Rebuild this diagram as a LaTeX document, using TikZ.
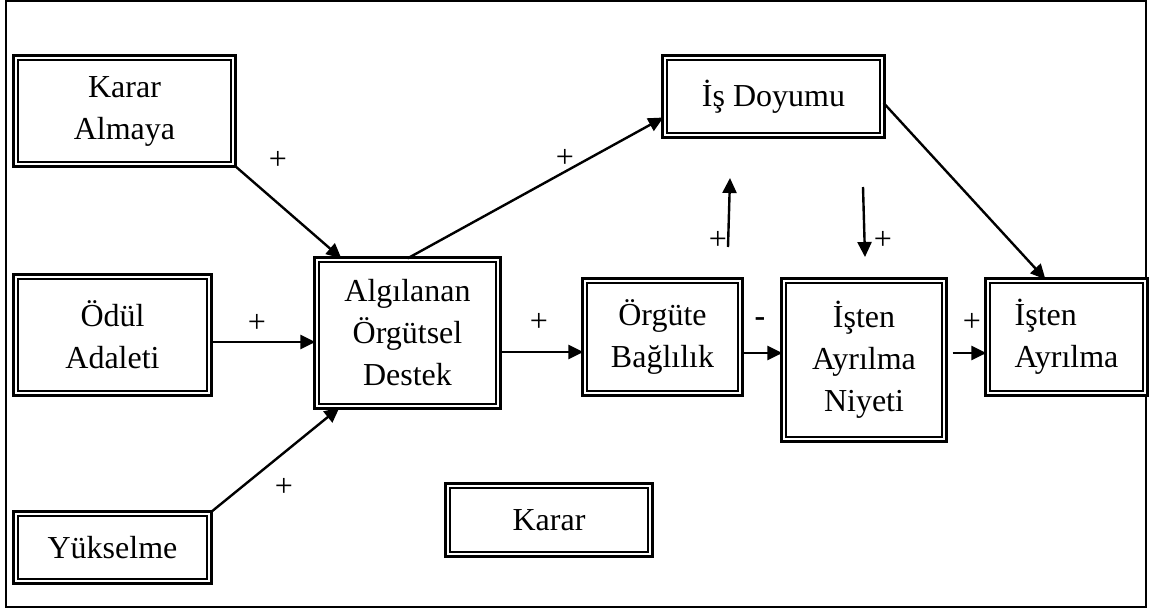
\documentclass[tikz,border=0pt]{standalone}
\usepackage{fontspec}
\setmainfont{Liberation Serif}
\usetikzlibrary{arrows.meta,calc}

\begin{document}
\begin{tikzpicture}[x=1pt,y=-1pt,>={Triangle[length=15pt,width=14pt]},line width=2.4pt]
 \tikzstyle{model box}=[draw,double,double distance=2.2pt,line width=2.6pt,align=center,inner sep=0pt,font=\fontsize{32}{42}\selectfont]
 \tikzstyle{sign}=[inner sep=0pt,font=\fontsize{32}{36}\selectfont]
 \useasboundingbox (0,0) rectangle (1152,608);
 \node (outer) [draw,line width=2pt,minimum width=1140pt,minimum height=606pt,inner sep=0pt] at (576,304) {};

 \node (kararalmaya) at (124.5,111) [model box,minimum width=217.6pt,minimum height=106.6pt] {Karar\\Almaya};
 \node (odul) at (112.5,335) [model box,minimum width=193.6pt,minimum height=116.6pt] {Ödül\\Adaleti};
 \node (yukselme) at (112.5,547.5) [model box,minimum width=193.6pt,minimum height=67.6pt] {Yükselme};
 \node (algilanan) at (407.5,333) [model box,minimum width=181.6pt,minimum height=146.6pt] {Algılanan\\Örgütsel\\Destek};
 \node (isdoyumu) at (773.5,96.5) [model box,minimum width=217.6pt,minimum height=77.6pt] {İş Doyumu};
 \node (orgute) at (662.5,337) [model box,minimum width=155.6pt,minimum height=112.6pt] {Örgüte\\Bağlılık};
 \node (niyeti) at (864,360) [model box,minimum width=160.6pt,minimum height=158.6pt] {İşten\\Ayrılma\\Niyeti};
 \node (istenayrilma) at (1066.5,337) [model box,align=left,minimum width=157.6pt,minimum height=112.6pt] {İşten\\Ayrılma};
 \node (karar) at (549,520) [model box,minimum width=202.6pt,minimum height=68.6pt] {Karar};

 % free arrows between the middle boxes
 \coordinate (upfoot) at (728,247);
 \coordinate (uptip) at (730,178);
 \coordinate (downfoot) at (863,187);
 \coordinate (downtip) at (865,257);

 \node (plusa) at (278,160) [sign] {+};
 \node (plusb) at (257,323) [sign] {+};
 \node (plusc) at (284,487) [sign] {+};
 \node (plusd) at (565,158) [sign] {+};
 \node (pluse) at (539,322) [sign] {+};
 \node (minus) at (760,322) [sign] {\textbf{-}};
 \node (plusf) at (972,322) [sign] {+};
 \node (plusg) at (718,240) [sign] {+};
 \node (plush) at (883,240) [sign] {+};

 \draw [->] (kararalmaya.south east) -- ([xshift=26pt]algilanan.north west);
 \draw [->] ([yshift=-7pt]odul.east) -- ([yshift=-7pt]odul.east -| algilanan.west);
 \draw [->] (yukselme.north east) -- ([xshift=24pt]algilanan.south west);
 \draw [->] (algilanan.north) -- ([yshift=-21pt]isdoyumu.west);
 \draw [->] ([yshift=-19pt]algilanan.east) -- ([yshift=-19pt]algilanan.east -| orgute.west);
 \draw [->] ([yshift=-16pt]orgute.east) -- ([yshift=-16pt]orgute.east -| niyeti.west);
 \draw [->] ([xshift=7pt,yshift=7pt]niyeti.east) -- ([yshift=7pt]niyeti.east -| istenayrilma.west);
 \draw [->] ([yshift=-6.5pt]isdoyumu.east) -- ([xshift=-21pt]istenayrilma.north);
 \draw [->] (upfoot) -- (uptip);
 \draw [->] (downfoot) -- (downtip);

\end{tikzpicture}
\end{document}
